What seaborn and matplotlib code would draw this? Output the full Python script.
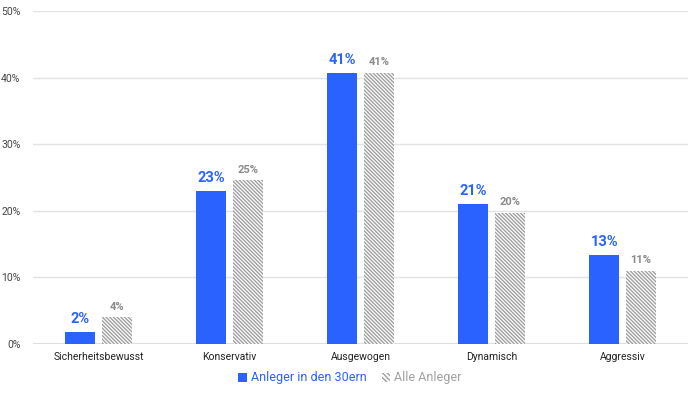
import matplotlib
matplotlib.use("Agg")
import matplotlib.pyplot as plt
import seaborn as sns
import pandas as pd
from matplotlib.patches import Patch

categories = ["Sicherheitsbewusst", "Konservativ", "Ausgewogen", "Dynamisch", "Aggressiv"]
series_names = ["Anleger in den 30ern", "Alle Anleger"]
values_30ern = [1.85, 22.97, 40.7, 21.05, 13.4]
values_alle = [4.0, 24.6, 40.7, 19.7, 11.0]
labels_30ern = ["2%", "23%", "41%", "21%", "13%"]
labels_alle = ["4%", "25%", "41%", "20%", "11%"]
yticks = [0, 10, 20, 30, 40, 50]

BLUE = "#2962FF"
GREY = "#a0a0a0"

df = pd.DataFrame({
    "cat": categories * 2,
    "series": [series_names[0]] * 5 + [series_names[1]] * 5,
    "value": values_30ern + values_alle,
})

sns.set_theme(style="white")
plt.rcParams["font.family"] = ["Roboto", "DejaVu Sans"]
plt.rcParams["hatch.linewidth"] = 1.0

fig = plt.figure(figsize=(6.98, 3.94), dpi=100)
ax = fig.add_axes([33 / 698, 1 - 344 / 394, (688 - 33) / 698, (344 - 11) / 394])

sns.barplot(data=df, x="cat", y="value", hue="series", order=categories,
            hue_order=series_names, palette=[BLUE, "white"], width=0.56, gap=0.2,
            saturation=1, legend=False, ax=ax, errorbar=None)

HATCH = "\\" * 9
containers = ax.containers
for p in containers[0]:
    p.set_edgecolor(BLUE)
    p.set_linewidth(0)
for p in containers[1]:
    p.set_facecolor("white")
    p.set_edgecolor(GREY)
    p.set_hatch(HATCH)
    p.set_linewidth(0)

ax.bar_label(containers[0], labels=labels_30ern, padding=4, color=BLUE,
             fontsize=10.5, fontweight="bold")
ax.bar_label(containers[1], labels=labels_alle, padding=4, color="#8a8a8a",
             fontsize=8, fontweight="bold")

ax.set_xlim(-0.5, 4.5)
ax.set_ylim(0, 50)
ax.set_yticks(yticks)
ax.set_yticklabels([f"{t}%" for t in yticks], fontsize=7.5, color="#444444")
ax.tick_params(axis="y", pad=9, length=0)
ax.tick_params(axis="x", pad=6, length=0, labelsize=7.5, labelcolor="#222222")
ax.set_xlabel("")
ax.set_ylabel("")
ax.yaxis.grid(True, color="#e3e3e3", linewidth=1)
ax.set_axisbelow(True)
for s in ax.spines.values():
    s.set_visible(False)
ax.axhline(0, color="#dddddd", linewidth=1.5, zorder=0.5)

handles = [
    Patch(facecolor=BLUE, edgecolor=BLUE, linewidth=0),
    Patch(facecolor="white", edgecolor=GREY, hatch="\\" * 7, linewidth=0),
]
leg = fig.legend(handles, series_names, loc="center", bbox_to_anchor=(350 / 698, 1 - 378 / 394),
                 ncol=2, frameon=False, fontsize=9, handlelength=0.7, handleheight=0.7,
                 handletextpad=0.3, columnspacing=1.2, labelcolor=[BLUE, GREY])

fig.savefig("out.png", dpi=100)
